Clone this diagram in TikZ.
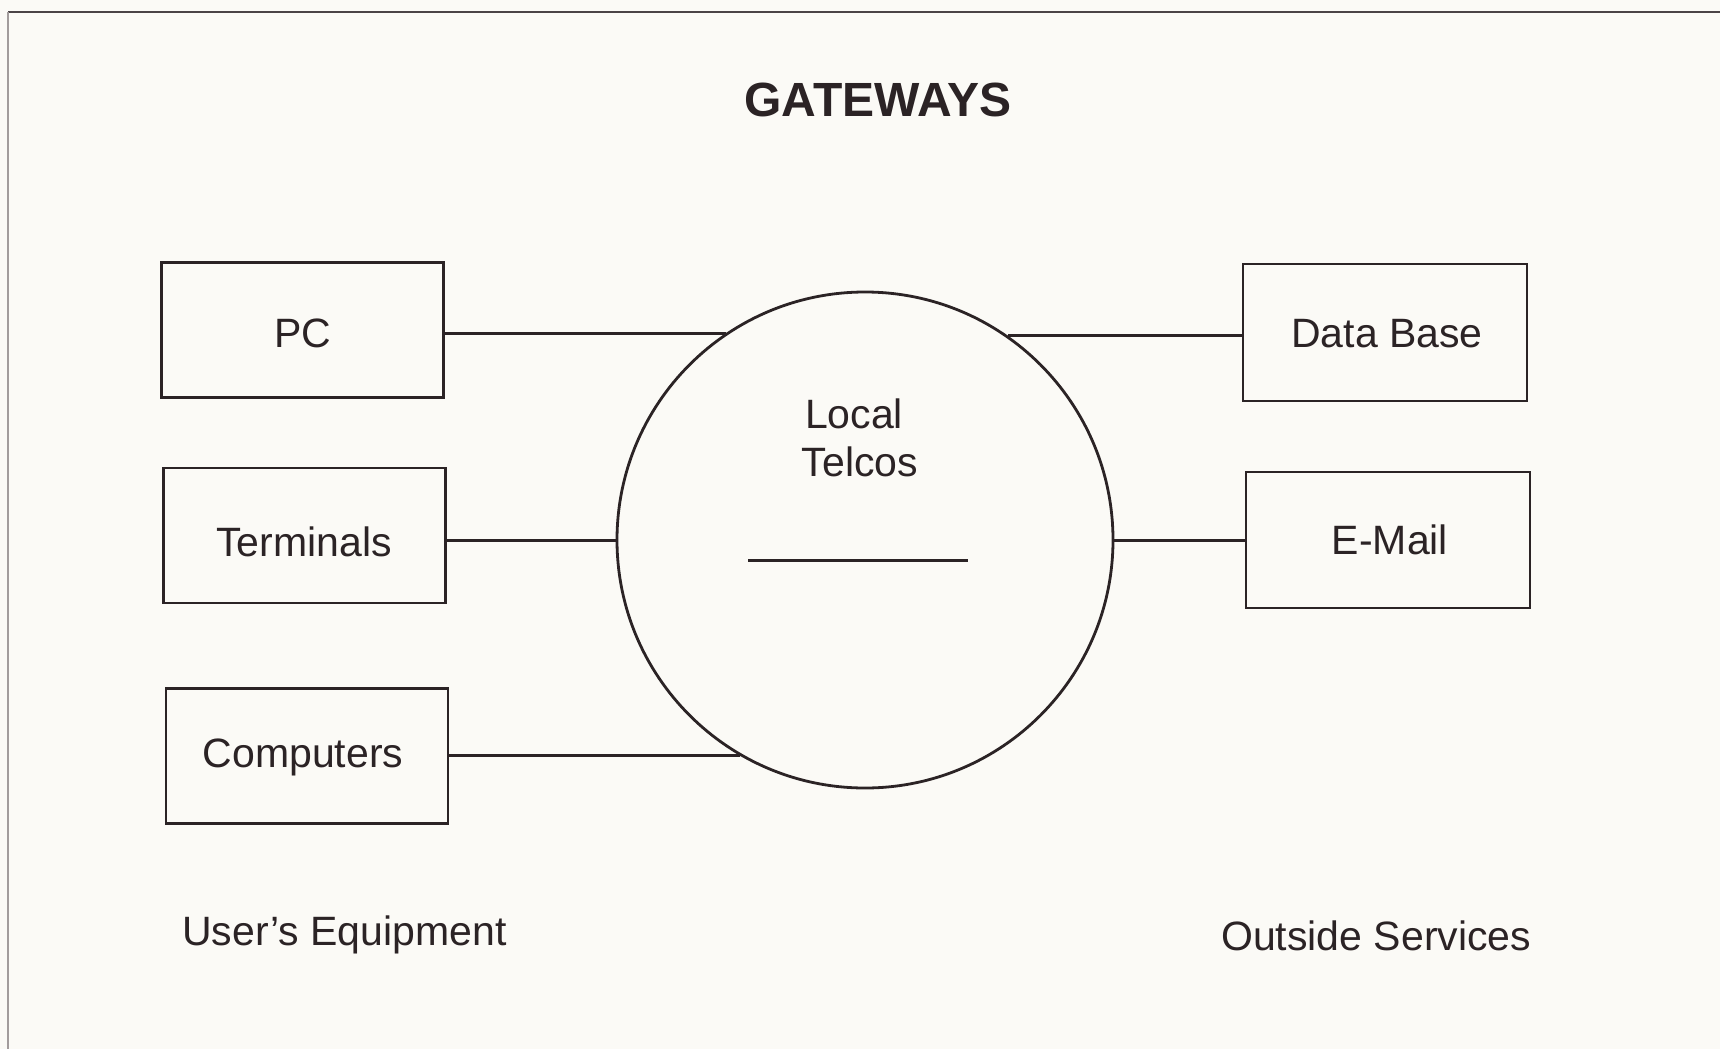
\documentclass[tikz,border=0pt]{standalone}
\usepackage{fontspec}
\setmainfont{Liberation Sans}
\definecolor{paper}{HTML}{FBFAF6}
\definecolor{ink}{HTML}{2B2325}
\definecolor{edge}{HTML}{A29C9C}
\begin{document}
\begin{tikzpicture}[x=1pt,y=-1pt,
  lw/.style={line width=2.8pt, draw=ink},
  boxnode/.style={lw, rectangle, inner sep=0pt, minimum width=282pt, minimum height=135pt},
  lbl/.style={text=ink, inner sep=0pt, anchor=base, font=\fontsize{41}{48}\selectfont},
  ttl/.style={text=ink, inner sep=0pt, anchor=base, font=\fontsize{48}{56}\selectfont\bfseries},
  conn/.style={lw, line width=3pt, line cap=butt}]
\useasboundingbox (0,0) rectangle (1720,1049);
\fill[paper] (0,0) rectangle (1720,1049);
% frame edges
\coordinate (fTL) at (8,12);
\coordinate (fTR) at (1720,12);
\coordinate (fBL) at (8,1049);
\draw[line width=2pt, draw=ink!85] (fTL) -- (fTR);
\draw[line width=2pt, draw=edge] (fTL) -- (fBL);
% title
\node[ttl] (title) at (878,116) {GATEWAYS};
% left boxes
\node[boxnode] (pc) at (302.5,330) {};
\node[boxnode] (term) at (304.5,535.5) {};
\node[boxnode] (comp) at (307,756) {};
\node[lbl] (pcT) at (303,347) {PC};
\node[lbl] (termT) at (304,556) {Terminals};
\node[lbl] (compT) at (303,767) {Computers};
% right boxes
\node[boxnode, minimum width=284pt, minimum height=137pt] (db) at (1385,332.5) {};
\node[boxnode, minimum width=284pt, minimum height=136pt] (mail) at (1388,540) {};
\node[lbl] (dbT) at (1387,347) {Data Base};
\node[lbl] (mailT) at (1390,554) {E-Mail};
% centre circle
\node[lw, circle, inner sep=0pt, minimum size=496pt] (circ) at (865,540) {};
\node[lbl] (locT) at (854,428) {Local};
\node[lbl] (telT) at (860,476) {Telcos};
\coordinate (barL) at (748,560);
\coordinate (barR) at (968,560);
\draw[conn] (barL) -- (barR);
% connectors
\draw[conn] (pc.east |- circ.124) -- (circ.124);
\draw[conn] (term.east |- circ.west) -- (circ.west);
\draw[conn] (comp.east |- circ.240) -- (circ.240);
\draw[conn] (circ.55) -- (db.west |- circ.55);
\draw[conn] (circ.east) -- (mail.west |- circ.east);
% group labels
\node[lbl, anchor=base west] (userT) at (182,945) {User's Equipment};
\node[lbl, anchor=base west] (outT) at (1221,950) {Outside Services};
\end{tikzpicture}
\end{document}
